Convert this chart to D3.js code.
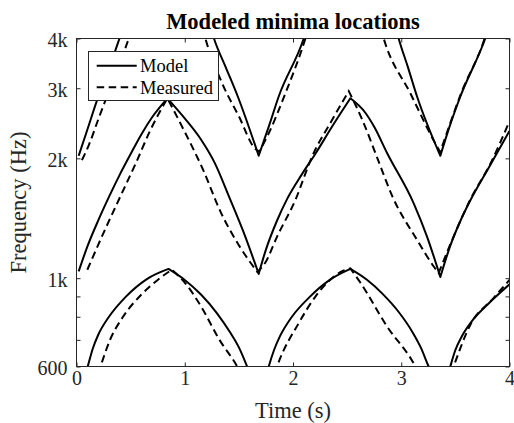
<!DOCTYPE html>
<html>
<head>
<meta charset="utf-8">
<script src="https://cdn.jsdelivr.net/npm/d3@7"></script>
<style>
  html, body { margin: 0; padding: 0; background: #fff; }
  svg { display: block; }
  text { font-family: "Liberation Serif", "Times New Roman", Times, serif; }
</style>
</head>
<body>
<svg id="chart" width="514" height="423"></svg>
<script>
// Axis ticks
const timeTicks = [0, 1, 2, 3, 4];
const freqTicks = [600, 1000, 2000, 3000, 4000];
const freqTickLabels = ["600", "1k", "2k", "3k", "4k"];
const freqMinorTicks = [700, 800, 900];

// Notch tracks as [time (s), frequency (Hz)]; null breaks a track where it leaves the frequency range
const modelUpper = [
  [0.02, 2030], [0.1, 2360], [0.19, 2800], [0.28, 3280], [0.36, 3740], [0.397, 4000], [0.43, 4250],
  null,
  [1.24, 4250], [1.27, 4000], [1.38, 3380], [1.49, 2860], [1.683, 2030],
  [1.78, 2420], [1.868, 2860], [2.099, 4000], [2.13, 4250],
  null,
  [2.95, 4250], [2.976, 4000], [3.06, 3400], [3.146, 2860], [3.361, 2030],
  [3.45, 2420], [3.546, 2860], [3.776, 4000], [3.81, 4250]
];
const modelMiddle = [
  [0.02, 1040], [0.1, 1200], [0.2, 1395], [0.3, 1600], [0.4, 1820], [0.5, 2050], [0.6, 2300], [0.7, 2540], [0.84, 2830],
  [1.0, 2520], [1.15, 2230], [1.28, 1940], [1.41, 1600], [1.56, 1270], [1.683, 1025],
  [1.75, 1180], [1.85, 1390], [1.945, 1580], [2.08, 1820], [2.21, 2060], [2.36, 2400], [2.53, 2830],
  [2.67, 2600], [2.75, 2400], [2.87, 2060], [3.115, 1542], [3.238, 1272], [3.361, 1007],
  [3.45, 1200], [3.55, 1400], [3.64, 1572], [3.82, 1920], [4.0, 2343]
];
const modelLower = [
  [0.07, 555], [0.104, 600], [0.15, 665], [0.2, 720], [0.3, 800], [0.45, 895], [0.65, 995], [0.85, 1055],
  [1.0, 990], [1.15, 910], [1.3, 815], [1.42, 730], [1.5, 670], [1.576, 600], [1.6, 578],
  null,
  [1.75, 565], [1.776, 600], [1.825, 660], [1.88, 715], [1.99, 800], [2.15, 895], [2.34, 990], [2.53, 1055],
  [2.68, 992], [2.83, 912], [2.98, 820], [3.1, 735], [3.18, 670], [3.253, 600], [3.28, 578],
  null,
  [3.43, 570], [3.453, 600], [3.5, 660], [3.56, 715], [3.66, 785], [3.8, 860], [4.0, 965]
];
const measuredUpper = [
  [0.05, 1980], [0.114, 2160], [0.2, 2500], [0.3, 2950], [0.4, 3450], [0.483, 4000], [0.52, 4250],
  null,
  [1.165, 4250], [1.191, 4000], [1.345, 3090], [1.5, 2550], [1.653, 2110], [1.69, 2080],
  [1.776, 2312], [1.93, 2914], [2.115, 4000], [2.145, 4250],
  null,
  [2.81, 4250], [2.838, 4000], [3.084, 2914], [3.315, 2180], [3.36, 2075],
  [3.45, 2440], [3.55, 2900], [3.77, 4000], [3.8, 4250]
];
const measuredMiddle = [
  [0.1, 1050], [0.25, 1300], [0.39, 1572], [0.55, 1950], [0.683, 2357], [0.84, 2830],
  [0.99, 2360], [1.17, 1870], [1.33, 1470], [1.5, 1210], [1.59, 1111], [1.67, 1037],
  [1.745, 1095], [1.853, 1272], [2.022, 1572], [2.176, 2020], [2.361, 2497], [2.515, 2950],
  [2.64, 2500], [2.78, 2000], [2.92, 1600], [3.146, 1248], [3.3, 1070], [3.345, 1030],
  [3.45, 1210], [3.55, 1400], [3.64, 1580], [3.82, 1930], [4.0, 2480]
];
const measuredLower = [
  [0.2, 575], [0.222, 600], [0.31, 700], [0.43, 800], [0.6, 910], [0.75, 990], [0.88, 1050],
  [1.0, 975], [1.15, 850], [1.314, 705], [1.484, 600], [1.51, 582],
  null,
  [1.83, 575], [1.853, 600], [2.053, 771], [2.207, 899], [2.45, 1040], [2.53, 1058],
  [2.622, 975], [2.869, 756], [3.13, 600], [3.16, 578],
  null,
  [3.46, 575], [3.484, 600], [3.64, 765], [3.85, 890], [4.0, 990]
];

const seriesNames = ["Model", "Measured"];
const modelTracks = [modelUpper, modelMiddle, modelLower];
const measuredTracks = [measuredUpper, measuredMiddle, measuredLower];

// ---- layout ----
const W = 514, H = 423;
const plot = { left: 76.5, right: 509.5, top: 38.5, bottom: 366.5 };
const axisColor = "#262626";
const tickLen = 4;
const dashPattern = "7.5 4.5";

const svg = d3.select("#chart");
svg.append("rect").attr("width", W).attr("height", H).attr("fill", "#fff");

const x = d3.scaleLinear().domain([0, 4]).range([plot.left, plot.right]);
const y = d3.scaleLog().domain([600, 4000]).range([plot.bottom, plot.top]);

svg.append("defs").append("clipPath").attr("id", "plot-clip")
  .append("rect")
  .attr("x", plot.left).attr("y", plot.top)
  .attr("width", plot.right - plot.left).attr("height", plot.bottom - plot.top);

// ---- axes ----
function styleAxis(g) {
  g.select(".domain").remove();
  g.selectAll(".tick line").attr("stroke", axisColor).attr("stroke-width", 1);
  g.selectAll(".tick text")
    .attr("fill", axisColor)
    .style("font-size", "20px")
    .style("font-family", '"Liberation Serif", "Times New Roman", serif');
}

svg.append("g")
  .attr("transform", `translate(0,${plot.bottom})`)
  .call(d3.axisBottom(x).tickValues(timeTicks).tickFormat(d3.format("d"))
    .tickSizeInner(-tickLen).tickSizeOuter(0).tickPadding(4.5))
  .call(styleAxis);

svg.append("g")
  .attr("transform", `translate(0,${plot.top})`)
  .call(d3.axisTop(x).tickValues(timeTicks).tickFormat("")
    .tickSizeInner(-tickLen).tickSizeOuter(0))
  .call(styleAxis);

svg.append("g")
  .attr("transform", `translate(${plot.left},0)`)
  .call(d3.axisLeft(y).tickValues(freqTicks).tickFormat((d, i) => freqTickLabels[i])
    .tickSizeInner(-tickLen).tickSizeOuter(0).tickPadding(9))
  .call(styleAxis)
  .call(g => g.selectAll(".tick text").attr("dy", "0.4em"));

svg.append("g")
  .attr("transform", `translate(${plot.right},0)`)
  .call(d3.axisRight(y).tickValues(freqTicks).tickFormat("")
    .tickSizeInner(-tickLen).tickSizeOuter(0))
  .call(styleAxis);

// minor frequency ticks on both vertical edges
svg.append("g")
  .attr("transform", `translate(${plot.left},0)`)
  .call(d3.axisLeft(y).tickValues(freqMinorTicks).tickFormat("")
    .tickSizeInner(-tickLen).tickSizeOuter(0))
  .call(styleAxis);
svg.append("g")
  .attr("transform", `translate(${plot.right},0)`)
  .call(d3.axisRight(y).tickValues(freqMinorTicks).tickFormat("")
    .tickSizeInner(-tickLen).tickSizeOuter(0))
  .call(styleAxis);

// ---- notch tracks ----
const line = d3.line()
  .x(d => x(d[0]))
  .y(d => y(d[1]))
  .curve(d3.curveMonotoneX);

// Break each track into monotone stretches so the turning points stay sharp,
// then join the stretches into a single path so the dash pattern runs on.
function trackPath(points) {
  const runs = [];
  let cur = [];
  points.forEach(p => {
    if (p === null) { if (cur.length) runs.push(cur); cur = []; }
    else cur.push(p);
  });
  if (cur.length) runs.push(cur);

  let d = "";
  runs.forEach(run => {
    const pieces = [];
    let start = 0;
    for (let i = 1; i < run.length - 1; i++) {
      const a = run[i][1] - run[i - 1][1];
      const b = run[i + 1][1] - run[i][1];
      if (a * b < 0) { pieces.push(run.slice(start, i + 1)); start = i; }
    }
    pieces.push(run.slice(start));
    pieces.forEach((pc, k) => {
      let s = line(pc);
      if (k > 0) s = s.replace(/^M/, "L");
      d += s;
    });
  });
  return d;
}

const curves = svg.append("g").attr("clip-path", "url(#plot-clip)");

curves.selectAll("path.model")
  .data(modelTracks)
  .join("path")
  .attr("class", "model")
  .attr("d", trackPath)
  .attr("fill", "none")
  .attr("stroke", "#000")
  .attr("stroke-width", 2)
  .attr("stroke-linejoin", "round");

curves.selectAll("path.measured")
  .data(measuredTracks)
  .join("path")
  .attr("class", "measured")
  .attr("d", trackPath)
  .attr("fill", "none")
  .attr("stroke", "#000")
  .attr("stroke-width", 2)
  .attr("stroke-dasharray", dashPattern);

// ---- frame ----
svg.append("rect")
  .attr("x", plot.left).attr("y", plot.top)
  .attr("width", plot.right - plot.left).attr("height", plot.bottom - plot.top)
  .attr("fill", "none")
  .attr("stroke", axisColor)
  .attr("stroke-width", 1);

// ---- titles ----
svg.append("text")
  .attr("x", (plot.left + plot.right) / 2)
  .attr("y", 28.5)
  .attr("text-anchor", "middle")
  .attr("fill", "#000")
  .style("font-size", "22.5px")
  .style("font-weight", "bold")
  .text("Modeled minima locations");

svg.append("text")
  .attr("x", (plot.left + plot.right) / 2)
  .attr("y", 417.5)
  .attr("text-anchor", "middle")
  .attr("fill", axisColor)
  .style("font-size", "22.5px")
  .text("Time (s)");

svg.append("text")
  .attr("transform", `translate(25.5,${(plot.top + plot.bottom) / 2}) rotate(-90)`)
  .attr("text-anchor", "middle")
  .attr("fill", axisColor)
  .style("font-size", "22.5px")
  .text("Frequency (Hz)");

// ---- legend ----
const legend = svg.append("g");
legend.append("rect")
  .attr("x", 88.5).attr("y", 51.5)
  .attr("width", 130).attr("height", 49)
  .attr("fill", "#fff")
  .attr("stroke", axisColor)
  .attr("stroke-width", 1);

const legendRows = [
  { name: seriesNames[0], dash: null, y: 65.7 },
  { name: seriesNames[1], dash: dashPattern, y: 87.3 }
];
legendRows.forEach(r => {
  legend.append("line")
    .attr("x1", 96.7).attr("x2", 136.7)
    .attr("y1", r.y).attr("y2", r.y)
    .attr("stroke", "#000")
    .attr("stroke-width", 2)
    .attr("stroke-dasharray", r.dash);
  legend.append("text")
    .attr("x", 140)
    .attr("y", r.y)
    .attr("dy", "0.34em")
    .attr("fill", "#000")
    .style("font-size", "18.5px")
    .text(r.name);
});
</script>
</body>
</html>
